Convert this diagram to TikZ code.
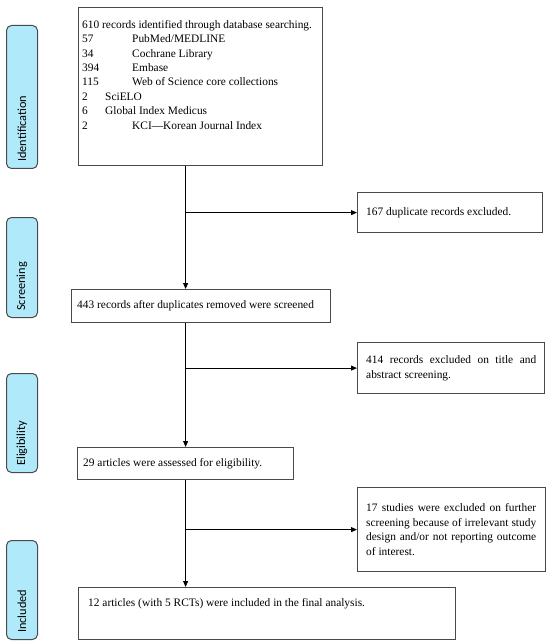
\documentclass[tikz,border=0pt]{standalone}
\usepackage{fontspec}
\setmainfont{Liberation Serif}
\newfontfamily\labelfont{Carlito}
\usetikzlibrary{arrows.meta}
\definecolor{phase}{HTML}{B0E9FA}
\definecolor{edge}{HTML}{4A4A4A}
\begin{document}
\hyphenpenalty=10000
\exhyphenpenalty=10000
\begin{tikzpicture}[x=1pt,y=-1pt,
  box/.style={draw=edge,line width=1.2pt,anchor=north west,inner sep=0pt},
  phasebox/.style={draw=edge,fill=phase,rounded corners=5pt,line width=1pt,anchor=north west,inner sep=0pt,minimum width=31pt},
  phasetxt/.style={rotate=90,anchor=west,inner sep=0pt,font=\labelfont\fontsize{12.3}{14}\selectfont},
  txt/.style={inner sep=0pt,font=\fontsize{11.4}{14.4}\selectfont,align=left},
  jtxt/.style={inner sep=0pt,font=\fontsize{11.4}{14.4}\selectfont,text width=170pt,align=justify},
  link/.style={line width=0.8pt},
  arr/.style={link,-{Triangle[length=6pt,width=5pt]}}]
\useasboundingbox (0,0) rectangle (550,644);

% phase labels
\node[phasebox,minimum height=143pt] (p1) at (6,25) {};
\node[phasetxt] (p1t) at ([yshift=7pt]p1.south) {Identification};
\node[phasebox,minimum height=100pt] (p2) at (6,217) {};
\node[phasetxt] (p2t) at ([yshift=7pt]p2.south) {Screening};
\node[phasebox,minimum height=99pt] (p3) at (6,373) {};
\node[phasetxt] (p3t) at ([yshift=7pt]p3.south) {Eligibility};
\node[phasebox,minimum height=99pt] (p4) at (6,540) {};
\node[phasetxt] (p4t) at ([yshift=7pt]p4.south) {Included};

% main boxes
\node[box,minimum width=244pt,minimum height=158pt] (ident) at (78,7) {};
\node[txt,anchor=north west] (identt) at (82,20) {%
610 records identified through database searching.\\
\makebox[50pt][l]{57}PubMed/MEDLINE\\
\makebox[50pt][l]{34}Cochrane Library\\
\makebox[50pt][l]{394}Embase\\
\makebox[50pt][l]{115}Web of Science core collections\\
\makebox[23pt][l]{2}SciELO\\
\makebox[23pt][l]{6}Global Index Medicus\\
\makebox[50pt][l]{2}KCI\textemdash Korean Journal Index};

\node[box,minimum width=259pt,minimum height=33pt] (scr) at (71,289) {};
\node[txt,anchor=west] (scrt) at ([xshift=6pt]scr.west) {443 records after duplicates removed were screened};

\node[box,minimum width=216pt,minimum height=32pt] (elig) at (77,447) {};
\node[txt,anchor=west] (eligt) at ([xshift=6pt]elig.west) {29 articles were assessed for eligibility.};

\node[box,minimum width=377pt,minimum height=52pt] (incl) at (78,587) {};
\node[txt,anchor=base west] (inclt) at (88,606) {12 articles (with 5 RCTs) were included in the final analysis.};

% exclusion boxes
\node[box,minimum width=185pt,minimum height=40pt] (dup) at (357,192) {};
\node[txt,anchor=west] (dupt) at ([xshift=9pt]dup.west) {167 duplicate records excluded.};

\node[box,minimum width=187pt,minimum height=51pt] (ex1) at (357,342) {};
\node[jtxt,anchor=west] (ex1t) at ([xshift=9pt]ex1.west) {414 records excluded on title and abstract screening.};

\node[box,minimum width=188pt,minimum height=84pt] (ex2) at (357,487) {};
\node[jtxt,anchor=west] (ex2t) at ([xshift=9pt]ex2.west) {17 studies were excluded on further screening because of irrelevant study design and/or not reporting outcome of interest.};

% connectors
\draw[arr] (ident.south -| elig.north) -- (scr.north -| elig.north);
\draw[arr] (dup.west -| elig.north) -- (dup.west);
\draw[arr] (scr.south -| elig.north) -- (elig.north);
\draw[arr] (ex1.west -| elig.north) -- (ex1.west);
\draw[arr] (elig.south) -- (incl.north -| elig.south);
\draw[arr] (ex2.west -| elig.south) -- (ex2.west);
\end{tikzpicture}
\end{document}
